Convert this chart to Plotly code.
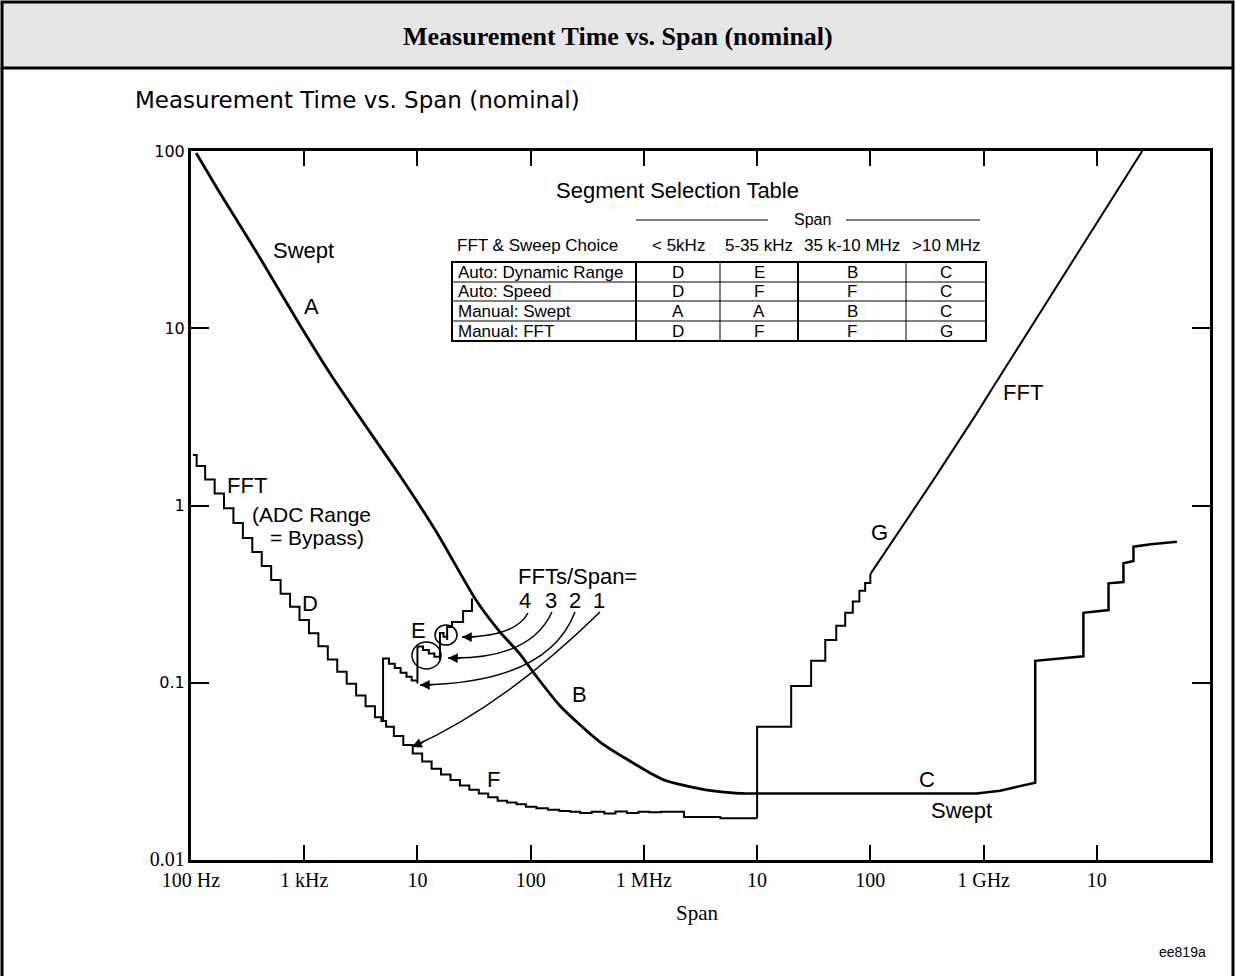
import math
import plotly.graph_objects as go

# ---- values (span in Hz, time in s) ----
# swept curve, segments A and B
swept_span = [111, 180, 383, 918, 1796, 3587, 7020, 14900, 32900, 53700, 80600, 105000,
              182000, 410000, 1.134e6, 1.6e6, 3.14e6, 6.14e6, 8.0e6]
swept_time = [97.4, 58.0, 26.6, 10.4, 5.24, 2.74, 1.47, 0.70, 0.293, 0.193, 0.145, 0.115,
              0.074, 0.0463, 0.031, 0.0279, 0.0252, 0.0239, 0.0237]

# swept curve, segment C
c_span = [8.0e6, 8.7e8, 1.4e9, 2.86e9, 2.86e9, 7.62e9, 7.62e9, 1.27e10, 1.27e10, 1.72e10,
          1.72e10, 2.11e10, 2.11e10, 3.0e10, 5.1e10]
c_time = [0.0237, 0.0237, 0.0246, 0.0273, 0.133, 0.141, 0.248, 0.257, 0.364, 0.37,
          0.472, 0.487, 0.586, 0.605, 0.625]

# FFT curve, segments D and F (staircase)
fft_span = [104, 121, 147, 178, 215, 261, 316, 383, 464, 562, 681, 825, 1000, 1212, 1468,
            1778, 2154, 2610, 3162, 3831, 4642, 4970, 5623, 6813, 8254, 10000, 12115,
            14678, 17783, 21544, 26102, 31623, 38312, 46416, 56234, 68129, 82540, 100000,
            126000, 160000, 200000, 250000, 300000, 400000, 500000, 630000, 800000, 1e6,
            1.25e6, 1.6e6, 2e6, 2.56e6, 4e6, 5.6e6, 1e7]
fft_time = [1.93, 1.67, 1.40, 1.168, 0.964, 0.796, 0.656, 0.547, 0.456, 0.380, 0.318,
            0.268, 0.226, 0.1905, 0.1606, 0.1353, 0.1155, 0.0987, 0.0847, 0.0736, 0.0639,
            0.0608, 0.0565, 0.0501, 0.0445, 0.0399, 0.0359, 0.0327, 0.0304, 0.0283, 0.0263,
            0.0249, 0.0237, 0.0226, 0.0216, 0.0211, 0.0206, 0.0200, 0.0196, 0.0192, 0.0189,
            0.0187, 0.0184, 0.0187, 0.0183, 0.0188, 0.0184, 0.0187, 0.0186, 0.0187, 0.0187,
            0.0175, 0.0175, 0.0172, 0.0172]

# FFT segment E (multiple FFTs per span)
e_span = [4970, 4970, 5600, 6300, 7100, 8000, 8900, 10000, 10000, 11200, 12600, 14100,
          15800, 15800, 17000, 18300, 18300, 20200, 25300, 30300]
e_time = [0.0608, 0.137, 0.128, 0.121, 0.114, 0.108, 0.103, 0.099, 0.16, 0.153, 0.146,
          0.14, 0.134, 0.191, 0.182, 0.174, 0.206, 0.22, 0.254, 0.30]

# FFT segment G: coarse steps, then the fine part
g_step_span = [1e7, 1e7, 2e7, 3e7, 4e7, 5e7, 6e7, 7e7, 8e7, 9e7, 1e8]
g_step_time = [0.0172, 0.0565, 0.096, 0.133, 0.174, 0.21, 0.248, 0.287, 0.33, 0.365, 0.41]
g_span = [1e8, 1.83e8, 3.6e8, 8.7e8, 1.22e9, 2.52e10]
g_time = [0.41, 0.727, 1.39, 3.31, 4.68, 100]

x_tickvals = [1e2, 1e3, 1e4, 1e5, 1e6, 1e7, 1e8, 1e9, 1e10]
x_ticktext = ["100 Hz", "1 kHz", "10", "100", "1 MHz", "10", "100", "1 GHz", "10"]
y_tickvals = [0.01, 0.1, 1, 10, 100]
y_ticktext = ['<span style="font-family:Liberation Serif;font-size:20px">0.01</span>',
              "0.1", "1", "10", "100"]

table_cols = ["< 5kHz", "5-35 kHz", "35 k-10 MHz", ">10 MHz"]
table_rows = ["Auto: Dynamic Range", "Auto: Speed", "Manual: Swept", "Manual: FFT"]
table_cells = [["D", "E", "B", "C"],
               ["D", "F", "F", "C"],
               ["A", "A", "B", "C"],
               ["D", "F", "F", "G"]]

# ---- page geometry (pixels) ----
W, H = 1235, 976
L, R, T, B = 191, 25, 151, 116
PW, PH = W - L - R, H - T - B


def px(x):
    return (x - L) / PW


def py(y):
    return (H - B - y) / PH


SANS = "Liberation Sans"
SERIF = "Liberation Serif"

fig = go.Figure()

fig.add_trace(go.Scatter(x=swept_span, y=swept_time, mode="lines",
                         line=dict(color="black", width=2.8, shape="spline", smoothing=0.6)))
fig.add_trace(go.Scatter(x=c_span, y=c_time, mode="lines",
                         line=dict(color="black", width=2.5)))
fig.add_trace(go.Scatter(x=fft_span, y=fft_time, mode="lines",
                         line=dict(color="black", width=2, shape="hvh")))
fig.add_trace(go.Scatter(x=e_span, y=e_time, mode="lines",
                         line=dict(color="black", width=2, shape="hv")))
fig.add_trace(go.Scatter(x=g_step_span, y=g_step_time, mode="lines",
                         line=dict(color="black", width=2, shape="hv")))
fig.add_trace(go.Scatter(x=g_span, y=g_time, mode="lines", line=dict(color="black", width=2)))

shapes = []
annotations = []


def text(s, x, y, size=22, family=SANS, xanchor="center", **kw):
    annotations.append(dict(text=s, x=px(x), y=py(y), xref="paper", yref="paper",
                            xanchor=xanchor, yanchor="middle", showarrow=False,
                            font=dict(family=family, size=size, color="black"), **kw))


def hline(x0, x1, y, w=1):
    shapes.append(dict(type="line", xref="paper", yref="paper", x0=px(x0), x1=px(x1),
                       y0=py(y), y1=py(y), line=dict(color="black", width=w)))


def vline(x, y0, y1, w=1):
    shapes.append(dict(type="line", xref="paper", yref="paper", x0=px(x), x1=px(x),
                       y0=py(y0), y1=py(y1), line=dict(color="black", width=w)))


# page frame and header band
shapes.append(dict(type="rect", xref="paper", yref="paper", x0=px(2), x1=px(1233),
                   y0=py(68), y1=py(2), fillcolor="#e6e6e6",
                   line=dict(color="black", width=3), layer="below"))
vline(2, 68, 990, w=3)
vline(1233, 68, 990, w=3)
text("<b>Measurement Time vs. Span (nominal)</b>", 618, 36, size=26, family=SERIF)
text("Measurement Time vs. Span (nominal)", 133, 100, size=23, family="DejaVu Sans",
     xanchor="left")

# axis title and figure id
text("Span", 697, 913, size=21, family=SERIF)
text("ee819a", 1208, 952, size=14, xanchor="right")

# curve labels
text("Swept", 303, 250)
text("A", 311, 306)
text("FFT", 247, 485)
text("(ADC Range", 311, 514, size=21)
text("= Bypass)", 317, 537, size=21)
text("D", 310, 603)
text("E", 418, 630)
text("B", 579, 694)
text("F", 493, 779)
text("C", 927, 779)
text("Swept", 961, 810)
text("G", 879, 532)
text("FFT", 1023, 392)
text("FFTs/Span=", 577, 576)
for lab, x in zip(["4", "3", "2", "1"], [525, 551, 575, 599]):
    text(lab, x, 600)

# circles around E steps
shapes.append(dict(type="circle", xref="paper", yref="paper", x0=px(435), x1=px(457),
                   y0=py(645), y1=py(625), line=dict(color="black", width=1.5)))
shapes.append(dict(type="circle", xref="paper", yref="paper", x0=px(412), x1=px(441),
                   y0=py(669), y1=py(642), line=dict(color="black", width=1.5)))

# curved arrows (start, control, tip) in pixels
arrows = [((528, 613), (515, 637), (462, 637)),
          ((552, 612), (530, 660), (448, 658)),
          ((575, 612), (548, 683), (420, 685)),
          ((600, 612), (504, 706), (412, 747))]
for (x0, y0), (cx, cy), (x2, y2) in arrows:
    path = f"M {px(x0)},{py(y0)} Q {px(cx)},{py(cy)} {px(x2)},{py(y2)}"
    shapes.append(dict(type="path", xref="paper", yref="paper", path=path,
                       line=dict(color="black", width=1.5)))
    d = math.hypot(cx - x2, cy - y2)
    annotations.append(dict(x=px(x2), y=py(y2), xref="paper", yref="paper", text="",
                            showarrow=True, arrowhead=2, arrowsize=1.3, arrowwidth=1.5,
                            arrowcolor="black", ax=(cx - x2) / d * 14, ay=(cy - y2) / d * 14))

# segment selection table
text("Segment Selection Table", 677, 190, size=22)
hline(636, 768, 220)
text("Span", 812, 220, size=16)
hline(846, 980, 220)
text("FFT & Sweep Choice", 455, 245, size=17, xanchor="left")
col_edges = [452, 636, 720, 798, 906, 986]
row_edges = [262, 282, 301, 321, 341]
for i, c in enumerate(table_cols):
    text(c, (col_edges[i + 1] + col_edges[i + 2]) / 2, 245, size=17)
shapes.append(dict(type="rect", xref="paper", yref="paper", x0=px(452), x1=px(986),
                   y0=py(341), y1=py(262), line=dict(color="black", width=2)))
for y in row_edges[1:-1]:
    hline(452, 986, y)
for k, x in enumerate(col_edges[1:-1]):
    vline(x, 262, 341, w=2 if k in (0, 2) else 1)
for r, (name, cells) in enumerate(zip(table_rows, table_cells)):
    yc = (row_edges[r] + row_edges[r + 1]) / 2
    text(name, 456, yc, size=17, xanchor="left")
    for c, v in enumerate(cells):
        text(v, (col_edges[c + 1] + col_edges[c + 2]) / 2, yc, size=17)

axis_common = dict(showline=True, linecolor="black", linewidth=3, mirror="ticks",
                   ticks="inside", tickcolor="black", tickwidth=2, showgrid=False,
                   zeroline=False, type="log")

fig.update_layout(
    width=W, height=H,
    margin=dict(l=L, r=R, t=T, b=B),
    paper_bgcolor="white", plot_bgcolor="white",
    showlegend=False,
    xaxis=dict(**axis_common, range=[2, 11], tickvals=x_tickvals, ticktext=x_ticktext,
               ticklen=15, tickfont=dict(family=SERIF, size=20, color="black")),
    yaxis=dict(**axis_common, range=[-2, 2], tickvals=y_tickvals, ticktext=y_ticktext,
               ticklen=18, tickfont=dict(family="DejaVu Sans", size=16, color="black")),
    shapes=shapes,
    annotations=annotations,
)

fig.write_html("out.html", config={"displayModeBar": False},
               post_script="document.body.style.margin='0px';")
